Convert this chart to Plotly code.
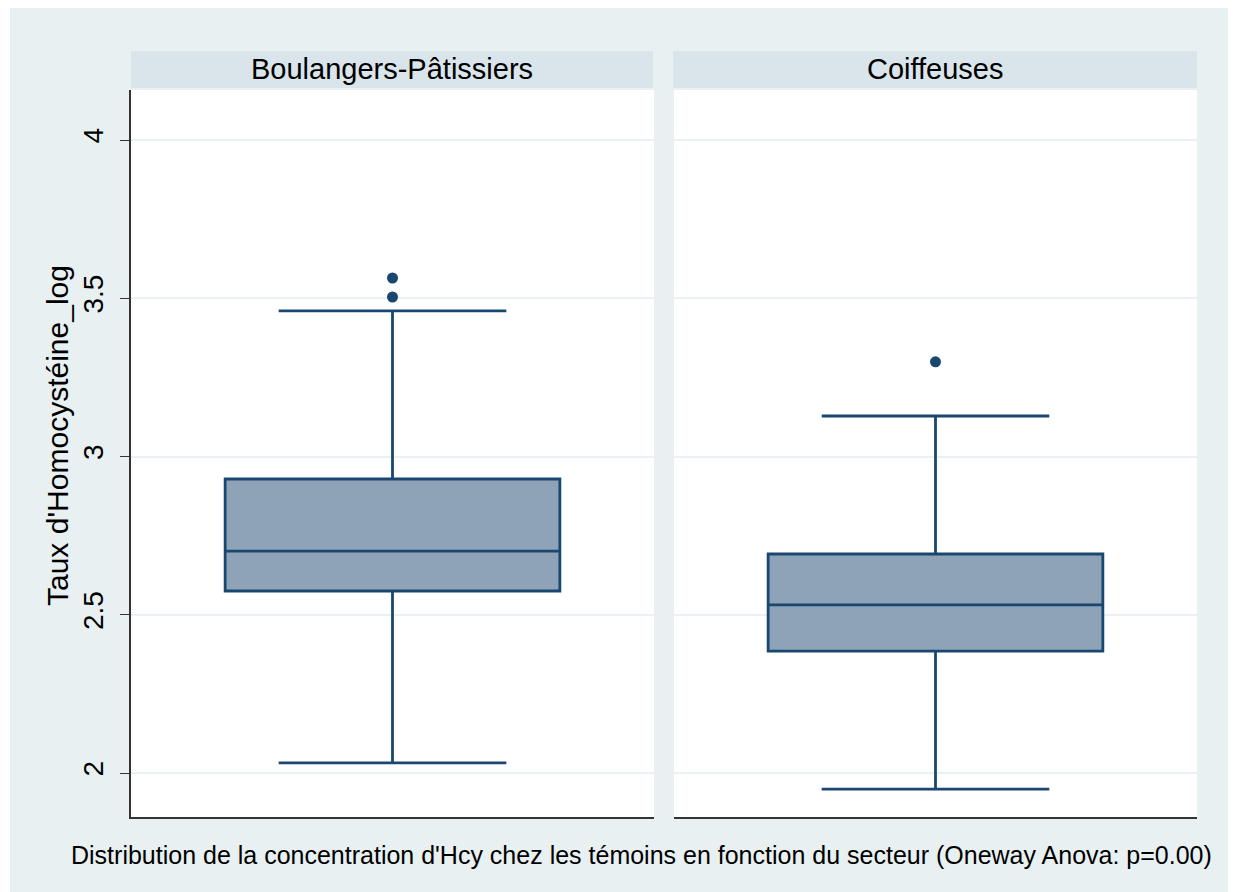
import plotly.graph_objects as go
from plotly.subplots import make_subplots

# ---- data ----
groups = ["Boulangers-Pâtissiers", "Coiffeuses"]
q1 = [2.575, 2.385]
median = [2.701, 2.531]
q3 = [2.929, 2.692]
lower_whisker = [2.032, 1.949]
upper_whisker = [3.460, 3.128]
outliers = [[3.564, 3.504], [3.299]]
y_ticks = [2, 2.5, 3, 3.5, 4]
y_title = "Taux d'Homocystéine_log"
caption = "Distribution de la concentration d'Hcy chez les témoins en fonction du secteur (Oneway Anova: p=0.00)"

# ---- style ----
OFF = 8  # browser body margin
W, H = 1236, 892
L, R, T, B = 131 - OFF, 39 + OFF, 90 - OFF, 75 + OFF
PW, PH = W - L - R, H - T - B
NAVY = "#1a476f"
FILL = "#8ea3b7"
BG = "#e8f0f2"
STRIP = "#d9e5eb"
GRID = "#eaf1f4"
FONT = "Liberation Sans, Arial, sans-serif"

def px_x(x):
    return (x - OFF - L) / PW

def px_y(y):
    return (H - B - (y - OFF)) / PH

fig = make_subplots(rows=1, cols=2, shared_yaxes=True, horizontal_spacing=20 / PW)

for i, g in enumerate(groups):
    col = i + 1
    fig.add_trace(go.Box(
        x=[g], q1=[q1[i]], median=[median[i]], q3=[q3[i]],
        lowerfence=[lower_whisker[i]], upperfence=[upper_whisker[i]],
        width=0.64, whiskerwidth=0.68,
        fillcolor=FILL, line=dict(color=NAVY, width=2.8),
        boxpoints=False, showlegend=False, hoverinfo="skip",
    ), row=1, col=col)
    fig.add_trace(go.Scatter(
        x=[g] * len(outliers[i]), y=outliers[i], mode="markers",
        marker=dict(color=NAVY, size=11), showlegend=False, hoverinfo="skip",
    ), row=1, col=col)

yrange = [1.861, 4.158]
for col in (1, 2):
    fig.update_xaxes(row=1, col=col, showticklabels=False, ticks="",
                     showline=True, linecolor="#333333", linewidth=1.5,
                     showgrid=False, zeroline=False, range=[-0.5, 0.5])
    fig.update_yaxes(row=1, col=col, range=yrange, tickvals=y_ticks,
                     showgrid=True, gridcolor=GRID, gridwidth=2, zeroline=False)

fig.update_yaxes(row=1, col=1, showline=True, linecolor="#333333", linewidth=1.5,
                 ticks="outside", ticklen=9, tickcolor="#333333", tickwidth=1.2,
                 tickangle=-90, ticklabelstandoff=6,
                 tickfont=dict(family=FONT, size=28, color="#000000"))
fig.update_yaxes(row=1, col=2, showticklabels=False, ticks="")

shapes = [
    dict(type="rect", xref="paper", yref="paper", x0=px_x(0), x1=px_x(10),
         y0=px_y(H + 20), y1=px_y(0), fillcolor="white", line=dict(width=0), layer="below"),
    dict(type="rect", xref="paper", yref="paper", x0=px_x(131), x1=px_x(653),
         y0=px_y(88), y1=px_y(51), fillcolor=STRIP, line=dict(width=0), layer="below"),
    dict(type="rect", xref="paper", yref="paper", x0=px_x(673), x1=px_x(1197),
         y0=px_y(88), y1=px_y(51), fillcolor=STRIP, line=dict(width=0), layer="below"),
]

annotations = [
    dict(text=groups[0], xref="paper", yref="paper", x=px_x(392), y=px_y(69),
         showarrow=False, font=dict(family=FONT, size=29, color="#000000"),
         xanchor="center", yanchor="middle"),
    dict(text=groups[1], xref="paper", yref="paper", x=px_x(935), y=px_y(69),
         showarrow=False, font=dict(family=FONT, size=29, color="#000000"),
         xanchor="center", yanchor="middle"),
    dict(text=y_title, xref="paper", yref="paper", x=px_x(57), y=px_y(436),
         showarrow=False, textangle=-90, font=dict(family=FONT, size=30, color="#000000"),
         xanchor="center", yanchor="middle"),
    dict(text=caption, xref="paper", yref="paper", x=px_x(641), y=px_y(855),
         showarrow=False, font=dict(family=FONT, size=25, color="#000000"),
         xanchor="center", yanchor="middle"),
]

fig.update_layout(
    width=W, height=H,
    margin=dict(l=L, r=R, t=T, b=B),
    paper_bgcolor=BG, plot_bgcolor="white",
    shapes=shapes, annotations=annotations,
    showlegend=False,
)

fig.write_html("out.html")
